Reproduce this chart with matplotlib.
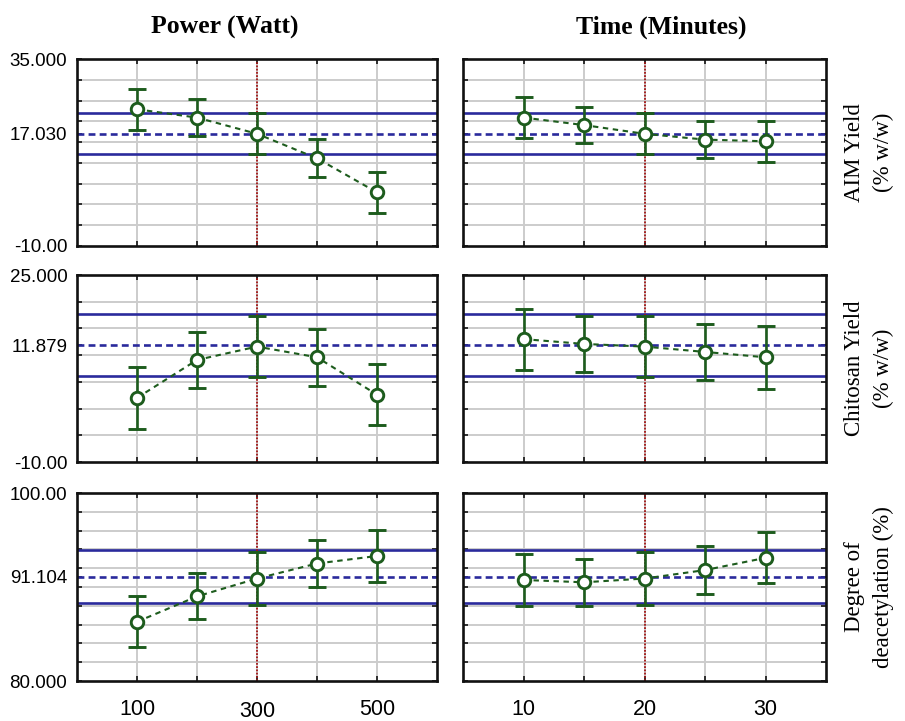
import matplotlib
matplotlib.use("Agg")
import matplotlib.pyplot as plt
import numpy as np

# ---- data ----
power = [100, 200, 300, 400, 500]
time_min = [10, 15, 20, 25, 30]

aim_power = [22.9, 20.9, 17.0, 11.1, 2.9]
aim_power_err = [5.0, 4.5, 4.9, 4.6, 5.0]
aim_time = [20.9, 19.1, 17.0, 15.6, 15.2]
aim_time_err = [4.9, 4.4, 4.9, 4.5, 5.0]

chit_power = [2.0, 9.1, 11.6, 9.6, 2.6]
chit_power_err = [5.8, 5.3, 5.75, 5.3, 5.7]
chit_time = [13.0, 12.1, 11.6, 10.6, 9.6]
chit_time_err = [5.7, 5.3, 5.75, 5.3, 5.85]

dda_power = [86.3, 89.0, 90.9, 92.5, 93.3]
dda_power_err = [2.7, 2.45, 2.8, 2.5, 2.8]
dda_time = [90.75, 90.5, 90.9, 91.8, 93.1]
dda_time_err = [2.75, 2.5, 2.8, 2.55, 2.7]

means = [17.030, 11.879, 91.104]
mean_halfwidth = [4.98, 5.75, 2.8]
ylims = [(-10, 35), (-10, 25), (80, 100)]
ygrid_step = [5, 5, 2]
ytick_labels = [["-10.00", "17.030", "35.000"],
                ["-10.00", "11.879", "25.000"],
                ["80.000", "91.104", "100.00"]]

col_titles = ["Power (Watt)", "Time (Minutes)"]
row_labels = ["AIM Yield\n(% w/w)", "Chitosan Yield\n(% w/w)", "Degree of\ndeacetylation (%)"]
power_major = [100, 300, 500]
power_minor = [200, 400]
time_major = [10, 20, 30]
time_minor = [15, 25]
center_x = [300, 20]
xlims = [(0, 600), (5, 35)]

# ---- styling ----
green = "#1d5c1d"
blue = "#2a2a9c"
red = "#a31515"

fig = plt.figure(figsize=(9.05, 7.21), dpi=100)
W, H = 905, 721
lefts = [77, 463]
widths = [360, 363]
tops = [59, 275, 493]
heights = [187, 187, 188]
title_x = [225, 661]

series = [
    [(aim_power, aim_power_err), (aim_time, aim_time_err)],
    [(chit_power, chit_power_err), (chit_time, chit_time_err)],
    [(dda_power, dda_power_err), (dda_time, dda_time_err)],
]
xs = [power, time_min]
xmaj = [power_major, time_major]
xmin_ = [power_minor, time_minor]

for r in range(3):
    for c in range(2):
        ax = fig.add_axes([lefts[c] / W, 1 - (tops[r] + heights[r]) / H,
                           widths[c] / W, heights[r] / H])
        y, e = series[r][c]
        lo, hi = ylims[r]
        ax.set_xlim(*xlims[c])
        ax.set_ylim(lo, hi)
        # grid
        ax.set_xticks(xmaj[c])
        ax.set_xticks(xmin_[c], minor=True)
        step = ygrid_step[r]
        ax.set_yticks(np.arange(lo + step, hi, step), minor=True)
        ax.set_yticks([lo, means[r], hi])
        ax.grid(True, which="both", axis="x", color="#cccccc", lw=1.4, zorder=0)
        ax.grid(True, which="minor", axis="y", color="#cccccc", lw=1.4, zorder=0)
        ax.set_axisbelow(True)
        # reference lines
        ax.axhline(means[r], color=blue, lw=1.9, ls=(0, (2.6, 1.6)), zorder=2)
        ax.axhline(means[r] + mean_halfwidth[r], color=blue, lw=1.9, zorder=2)
        ax.axhline(means[r] - mean_halfwidth[r], color=blue, lw=1.9, zorder=2)
        ax.axvline(center_x[c], color=red, lw=1.3, ls=(0, (1, 0.8)), zorder=2)
        # data
        ax.plot(xs[c], y, color=green, lw=1.5, ls=(0, (2.6, 2.2)), zorder=3)
        ax.errorbar(xs[c], y, yerr=e, fmt="o", color=green, mfc="white",
                    mec=green, ms=9, mew=2.1, elinewidth=1.9, capsize=6.5,
                    capthick=1.7, zorder=4)
        # ticks
        ax.tick_params(which="both", direction="in", top=True, right=True,
                       length=3.5, width=1.3, color="#222222")
        if c == 0:
            ax.set_yticklabels(ytick_labels[r], fontsize=13.5,
                               family="Liberation Sans")
            ax.tick_params(axis="y", which="major", pad=7)
        else:
            ax.set_yticklabels([])
        if r == 2:
            ax.set_xticklabels([str(v) for v in xmaj[c]], fontsize=15.5,
                               family="Liberation Sans")
            ax.tick_params(axis="x", which="major", pad=13)
            if c == 0:
                ax.xaxis.get_major_ticks()[1].set_pad(14.5)
        else:
            ax.set_xticklabels([])
        for s in ax.spines.values():
            s.set_linewidth(1.9)
            s.set_color("#111111")
        if c == 1:
            ax.text(1.118, 0.5, row_labels[r], transform=ax.transAxes,
                    rotation=90, ha="center", va="center", multialignment="center",
                    fontsize=16.5, family="Liberation Serif", linespacing=1.45)

for c in range(2):
    fig.text(title_x[c] / W, 1 - 27 / H, col_titles[c], ha="center", va="center",
             fontsize=18.5, fontweight="bold", family="Liberation Serif")

fig.savefig("out.png", dpi=100)
